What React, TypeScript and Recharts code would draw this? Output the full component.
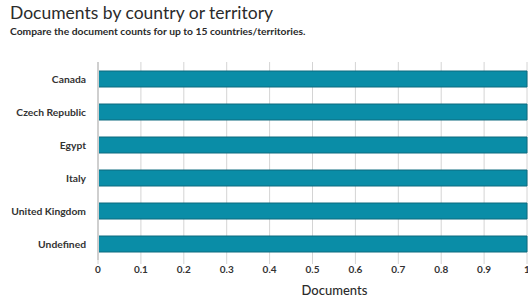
import React from "react";
import { Bar, BarChart, CartesianGrid, XAxis, YAxis } from "recharts";

const countries = ["Canada", "Czech Republic", "Egypt", "Italy", "United Kingdom", "Undefined"];
const documents = [1, 1, 1, 1, 1, 1];
const ticks = [0, 0.1, 0.2, 0.3, 0.4, 0.5, 0.6, 0.7, 0.8, 0.9, 1];

const data = countries.map((country, i) => ({ country, documents: documents[i] }));

const font = "Lato, 'Open Sans', sans-serif";

// single-line category label (recharts would wrap long names)
function CountryTick({ x, y, payload }: any) {
  return (
    <text
      x={x - 4}
      y={y}
      dy={4}
      textAnchor="end"
      fontSize={10.3}
      fontWeight={700}
      fill="#333"
      fontFamily={font}
    >
      {payload.value}
    </text>
  );
}

export default function App() {
  return (
    <div
      style={{
        position: "fixed",
        left: 0,
        top: 0,
        width: 528,
        height: 297,
        overflow: "hidden",
        background: "#fff",
        fontFamily: font,
      }}
    >
      <div
        style={{
          position: "absolute",
          left: 10,
          top: 2,
          fontSize: 17.5,
          color: "#2b2b2b",
          whiteSpace: "nowrap",
        }}
      >
        Documents by country or territory
      </div>
      <div
        style={{
          position: "absolute",
          left: 10,
          top: 25,
          fontSize: 10.3,
          fontWeight: 700,
          color: "#2a2a2a",
          whiteSpace: "nowrap",
        }}
      >
        Compare the document counts for up to 15 countries/territories.
      </div>
      <BarChart
        width={528}
        height={297}
        data={data}
        layout="vertical"
        margin={{ top: 62, right: 1, left: 0, bottom: 7 }}
        barCategoryGap={0}
      >
        <CartesianGrid horizontal={false} stroke="#d4d4d4" strokeWidth={1} />
        <XAxis
          type="number"
          domain={[0, 1]}
          ticks={ticks}
          interval={0}
          height={30}
          axisLine={false}
          tickLine={{ stroke: "#d4d4d4" }}
          tickSize={4}
          tick={{ fontSize: 10, fill: "#333", fontWeight: 700, fontFamily: font }}
          label={{
            value: "Documents",
            position: "insideBottom",
            offset: -5,
            dx: 22,
            style: { fontSize: 13, fill: "#2b2b2b", fontWeight: 500, fontFamily: font },
          }}
        />
        <YAxis
          type="category"
          dataKey="country"
          width={98}
          axisLine={{ stroke: "#cfcfcf", strokeWidth: 2 }}
          tickLine={false}
          tick={<CountryTick />}
        />
        <Bar
          dataKey="documents"
          barSize={16}
          fill="#0a8da7"
          stroke="#0d6a7e"
          strokeWidth={1}
          isAnimationActive={false}
        />
      </BarChart>
    </div>
  );
}
